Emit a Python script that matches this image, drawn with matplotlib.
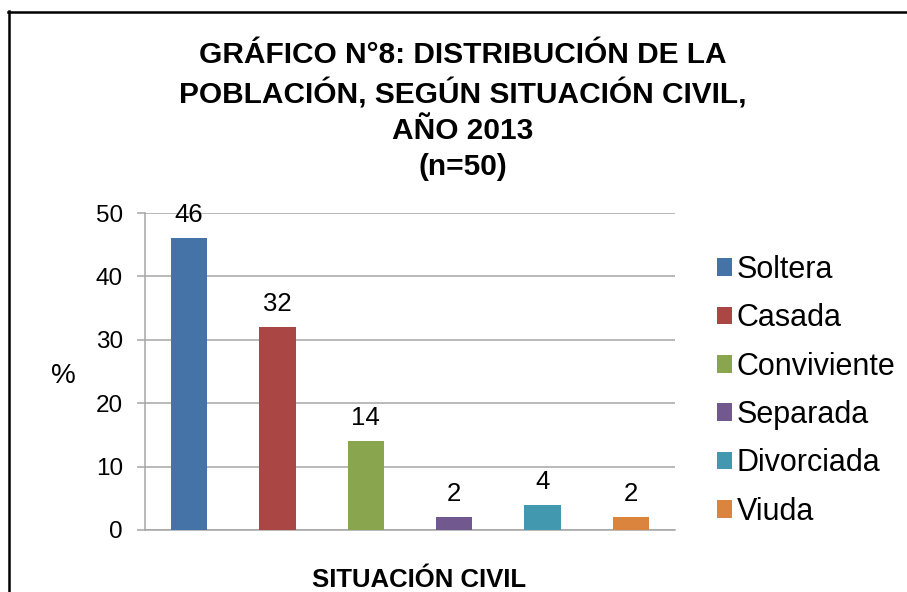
import matplotlib
matplotlib.use("Agg")
import matplotlib.pyplot as plt
from matplotlib.lines import Line2D
from matplotlib import font_manager

categories = ["Soltera", "Casada", "Conviviente", "Separada", "Divorciada", "Viuda"]
values = [46, 32, 14, 2, 4, 2]
yticks = [0, 10, 20, 30, 40, 50]
colors = ["#4572A7", "#AA4643", "#89A54E", "#71588F", "#4198AF", "#DB843D"]
title = "GRÁFICO N°8: DISTRIBUCIÓN DE LA\nPOBLACIÓN, SEGÚN SITUACIÓN CIVIL,\nAÑO 2013\n(n=50)"
xlabel = "SITUACIÓN CIVIL"
ylabel = "%"

names = {f.name for f in font_manager.fontManager.ttflist}
base = "Liberation Sans" if "Liberation Sans" in names else "DejaVu Sans"
plt.rcParams["font.family"] = [base, "DejaVu Sans"]

W, H = 907, 592
fig = plt.figure(figsize=(W / 100, H / 100), dpi=100)
fig.patch.set_facecolor("white")

ax = fig.add_axes([145 / W, 1 - 530 / H, (675 - 145) / W, (530 - 213) / H])
x = list(range(len(categories)))
bars = ax.bar(x, values, width=0.41, color=colors, label=categories, zorder=3)
ax.set_xlim(-0.5, len(categories) - 0.5)
ax.set_ylim(0, 50)
ax.set_yticks(yticks)
ax.set_xticks([])
ax.yaxis.grid(True, color="#a6a6a6", linewidth=1.1, zorder=0)
for s in ["top", "right"]:
    ax.spines[s].set_visible(False)
for s in ["left", "bottom"]:
    ax.spines[s].set_color("#a6a6a6")
    ax.spines[s].set_linewidth(1.1)
ax.tick_params(axis="y", length=6, width=1.1, color="#a6a6a6", labelsize=17.5, pad=10)
ax.bar_label(bars, labels=[str(v) for v in values], padding=8, fontsize=18.5)

leg = ax.legend(handles=bars, labels=categories, loc="upper left",
                bbox_to_anchor=(717 / W, 1 - 255 / H), bbox_transform=fig.transFigure,
                frameon=False, fontsize=22, handlelength=0.5, handleheight=0.5,
                handletextpad=0.15, labelspacing=0.6, borderaxespad=0, borderpad=0)

fig.text(463 / W, 1 - 41 / H, title, ha="center", va="top", fontsize=21.5,
         fontweight="bold", linespacing=1.36)
fig.text(63 / W, 1 - 376 / H, ylabel, ha="center", va="center", fontsize=20)
fig.text(419 / W, 1 - 587 / H, xlabel, ha="center", va="baseline", fontsize=18.5,
         fontweight="bold")

fig.add_artist(Line2D([9 / W, 9 / W], [0, 1 - 11 / H], color="black", linewidth=1.8,
                      transform=fig.transFigure))
fig.add_artist(Line2D([8.3 / W, 1], [1 - 12 / H, 1 - 12 / H], color="black", linewidth=1.8,
                      transform=fig.transFigure))

fig.savefig("out.png", dpi=100)
